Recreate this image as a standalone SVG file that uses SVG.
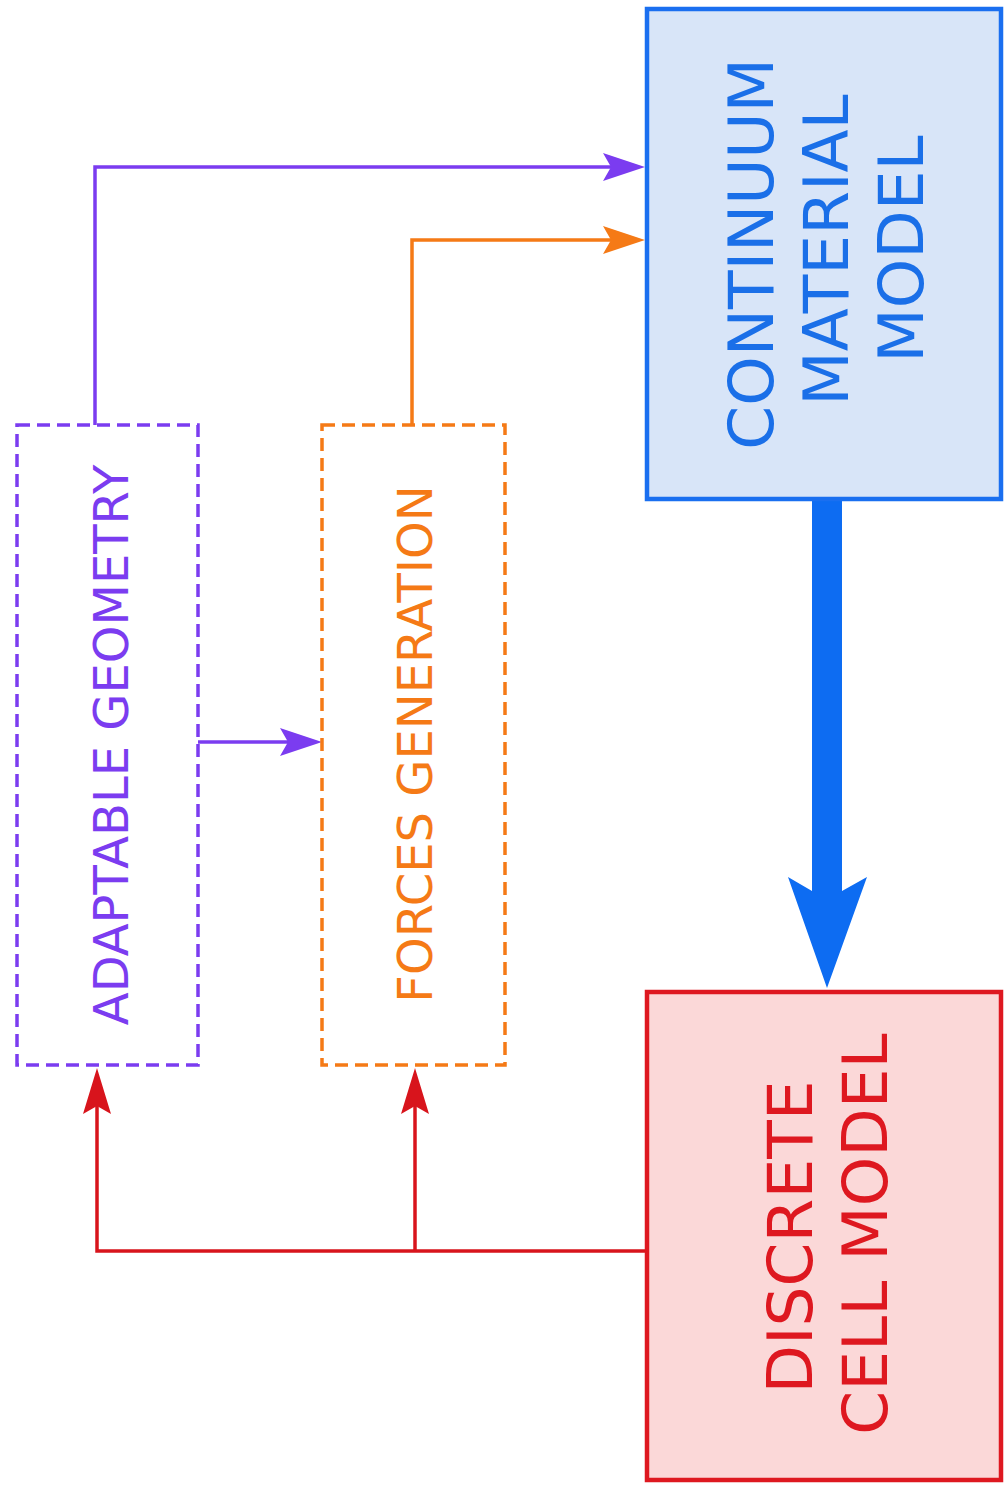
<svg xmlns="http://www.w3.org/2000/svg" width="1004" height="1486" viewBox="0 0 1004 1486">
<style>
.lbl{font-family:"DejaVu Sans","Liberation Sans",sans-serif;text-anchor:middle}
.big{font-size:63px}
.small{font-size:48px}
.conn{fill:none;stroke-width:3.5}
</style>
<defs>
<marker id="ahP" viewBox="-42 -15 42 30" markerWidth="42" markerHeight="30" refX="-8" refY="0" markerUnits="userSpaceOnUse" orient="auto"><path d="M0,0 L-42,-14 L-34,0 L-42,14 Z" fill="#7b3cf0"/></marker>
<marker id="ahO" viewBox="-42 -15 42 30" markerWidth="42" markerHeight="30" refX="-8" refY="0" markerUnits="userSpaceOnUse" orient="auto"><path d="M0,0 L-42,-14 L-34,0 L-42,14 Z" fill="#f57a16"/></marker>
<marker id="ahR" viewBox="-46 -15 46 30" markerWidth="46" markerHeight="30" refX="-8" refY="0" markerUnits="userSpaceOnUse" orient="auto"><path d="M0,0 L-46,-14 L-38,0 L-46,14 Z" fill="#d8141c"/></marker>
</defs>
<rect width="1004" height="1486" fill="#ffffff"/>
<g id="connectors">
<path class="conn" d="M95,425 V167 H637" stroke="#7b3cf0" marker-end="url(#ahP)"/>
<path class="conn" d="M412,425 V240 H637" stroke="#f57a16" marker-end="url(#ahO)"/>
<path class="conn" d="M198,742 H314" stroke="#7b3cf0" marker-end="url(#ahP)"/>
<path class="conn" d="M647,1251 H97 V1076" stroke="#d8141c" marker-end="url(#ahR)"/>
<path class="conn" d="M415,1251 V1076" stroke="#d8141c" marker-end="url(#ahR)"/>
<path d="M812,499 V891 L788,877 L827,988 L867,877 L842,891 V499 Z" fill="#0d6cf2"/>
</g>
<g id="continuum">
<rect x="647" y="9" width="354" height="490" fill="#d8e5f8" stroke="#1a6ff0" stroke-width="4.5"/>
<text class="lbl big" fill="#1a6fe8" transform="translate(773,254) rotate(-90)">CONTINUUM</text>
<text class="lbl big" fill="#1a6fe8" transform="translate(848,250) rotate(-90)">MATERIAL</text>
<text class="lbl big" fill="#1a6fe8" transform="translate(923,249) rotate(-90)">MODEL</text>
</g>
<g id="discrete">
<rect x="647" y="992" width="354" height="488" fill="#fbd8d8" stroke="#de1820" stroke-width="4.5"/>
<text class="lbl big" fill="#de1820" transform="translate(812,1237) rotate(-90)">DISCRETE</text>
<text class="lbl big" fill="#de1820" transform="translate(887,1234) rotate(-90)">CELL MODEL</text>
</g>
<g id="adaptable">
<rect x="17" y="425" width="181" height="640" fill="none" stroke="#7b3cf0" stroke-width="3.5" stroke-dasharray="13 7"/>
<text class="lbl small" fill="#7b3cf0" transform="translate(128,745) rotate(-90)">ADAPTABLE GEOMETRY</text>
</g>
<g id="forces">
<rect x="322" y="425" width="183" height="640" fill="none" stroke="#f57a16" stroke-width="3.5" stroke-dasharray="13 7"/>
<text class="lbl small" fill="#f57a16" transform="translate(432,744) rotate(-90)">FORCES GENERATION</text>
</g>
</svg>
